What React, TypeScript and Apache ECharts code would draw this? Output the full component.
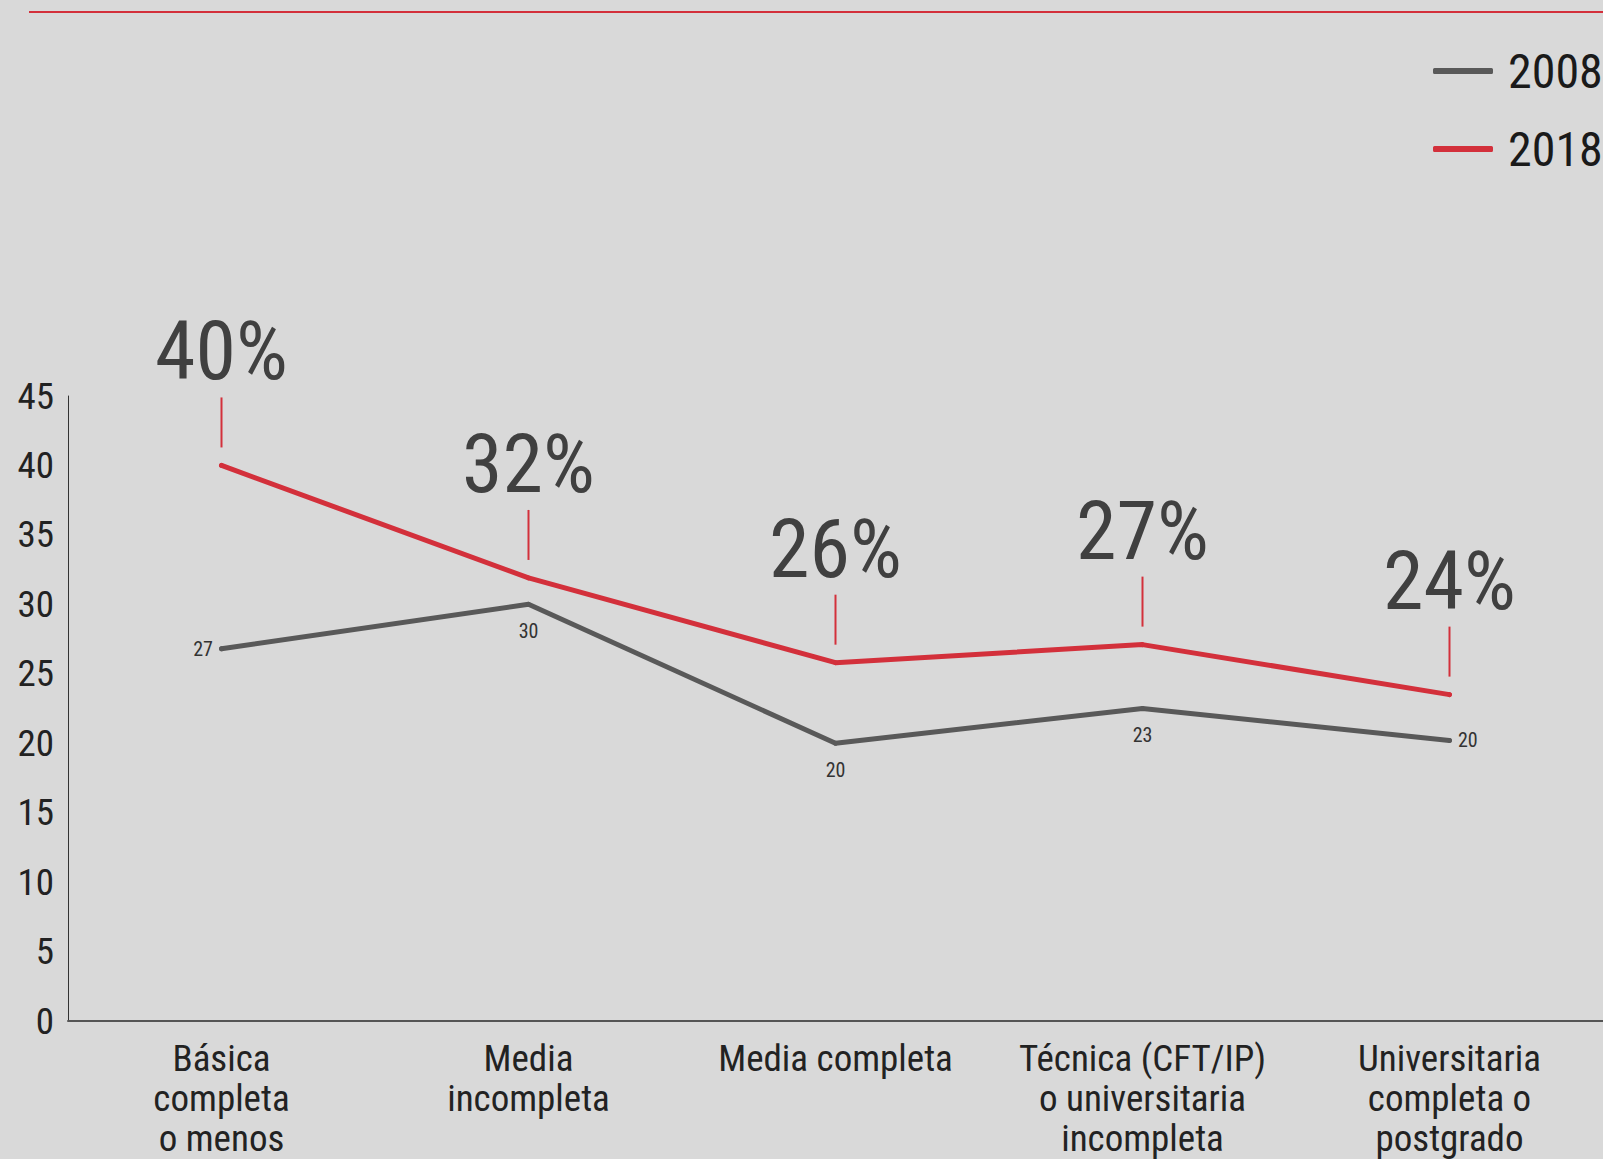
import React, { useEffect, useRef } from "react";
import * as echarts from "echarts";

const categories = [
  "Básica\ncompleta\no menos",
  "Media\nincompleta",
  "Media completa",
  "Técnica (CFT/IP)\no universitaria\nincompleta",
  "Universitaria\ncompleta o\npostgrado",
];
const values2008 = [26.8, 30, 20, 22.5, 20.2];
const values2018 = [40, 31.9, 25.8, 27.1, 23.5];
const labelPos2008 = ["left", "bottom", "bottom", "bottom", "right"];
const seriesNames = ["2008", "2018"];

const FONT = "'Roboto Condensed', 'Liberation Sans Narrow', 'Arial Narrow', 'DejaVu Sans Condensed', sans-serif";
const RED = "#d3303b";
const GRAY = "#595959";

export default function App() {
  const ref = useRef<HTMLDivElement>(null);
  useEffect(() => {
    document.body.style.margin = "0";
    const chart = echarts.init(ref.current!, null, { renderer: "svg" });
    chart.setOption({
      animation: false,
      backgroundColor: "#d9d9d9",
      textStyle: { fontFamily: FONT },
      graphic: [
        {
          type: "line",
          shape: { x1: 29, y1: 12, x2: 1603, y2: 12 },
          style: { stroke: RED, lineWidth: 2 },
        },
      ],
      legend: {
        data: seriesNames,
        orient: "vertical",
        left: 1428,
        top: 42,
        itemWidth: 60,
        itemHeight: 6,
        itemGap: 30,
        icon: "roundRect",
        textStyle: { fontSize: 48, color: "#1a1a1a", fontFamily: FONT, padding: [0, 0, 0, 10] },
      },
      grid: { left: 68, right: 0, top: 396, bottom: 138 },
      xAxis: {
        type: "category",
        data: categories,
        boundaryGap: true,
        axisLine: { lineStyle: { color: "#555555", width: 2 } },
        axisTick: { show: false },
        axisLabel: {
          interval: 0,
          fontSize: 37,
          lineHeight: 40,
          margin: 17,
          color: "#222222",
          fontFamily: FONT,
        },
      },
      yAxis: {
        type: "value",
        min: 0,
        max: 45,
        interval: 5,
        splitLine: { show: false },
        axisTick: { show: false },
        axisLine: { show: true, lineStyle: { color: "#333333", width: 1 } },
        axisLabel: { fontSize: 37, color: "#222222", margin: 14, fontFamily: FONT },
      },
      series: [
        {
          name: "2008",
          type: "line",
          data: values2008.map((v, i) => ({
            value: v,
            label: { position: labelPos2008[i], distance: labelPos2008[i] === "bottom" ? 14 : 6 },
          })),
          symbol: "circle",
          symbolSize: 5,
          itemStyle: { color: GRAY },
          lineStyle: { color: GRAY, width: 5, cap: "round" },
          label: {
            show: true,
            fontSize: 20,
            color: "#333333",
            fontFamily: FONT,
            formatter: (p: any) => String(Math.round(p.value)),
          },
        },
        {
          name: "2018",
          type: "line",
          data: values2018,
          symbol: "circle",
          symbolSize: 5,
          itemStyle: { color: RED },
          lineStyle: { color: RED, width: 5, cap: "round" },
        },
        {
          name: "2018 etiquetas",
          type: "scatter",
          data: values2018,
          symbol: "rect",
          symbolSize: [2, 50],
          symbolOffset: [0, -43],
          itemStyle: { color: RED, opacity: 1 },
          label: {
            show: true,
            position: "top",
            distance: 5,
            fontSize: 82,
            color: "#404040",
            fontFamily: FONT,
            formatter: (p: any) => Math.round(p.value) + "%",
          },
        },
      ],
    });
    return () => chart.dispose();
  }, []);
  return <div ref={ref} style={{ width: 1603, height: 1159 }} />;
}
